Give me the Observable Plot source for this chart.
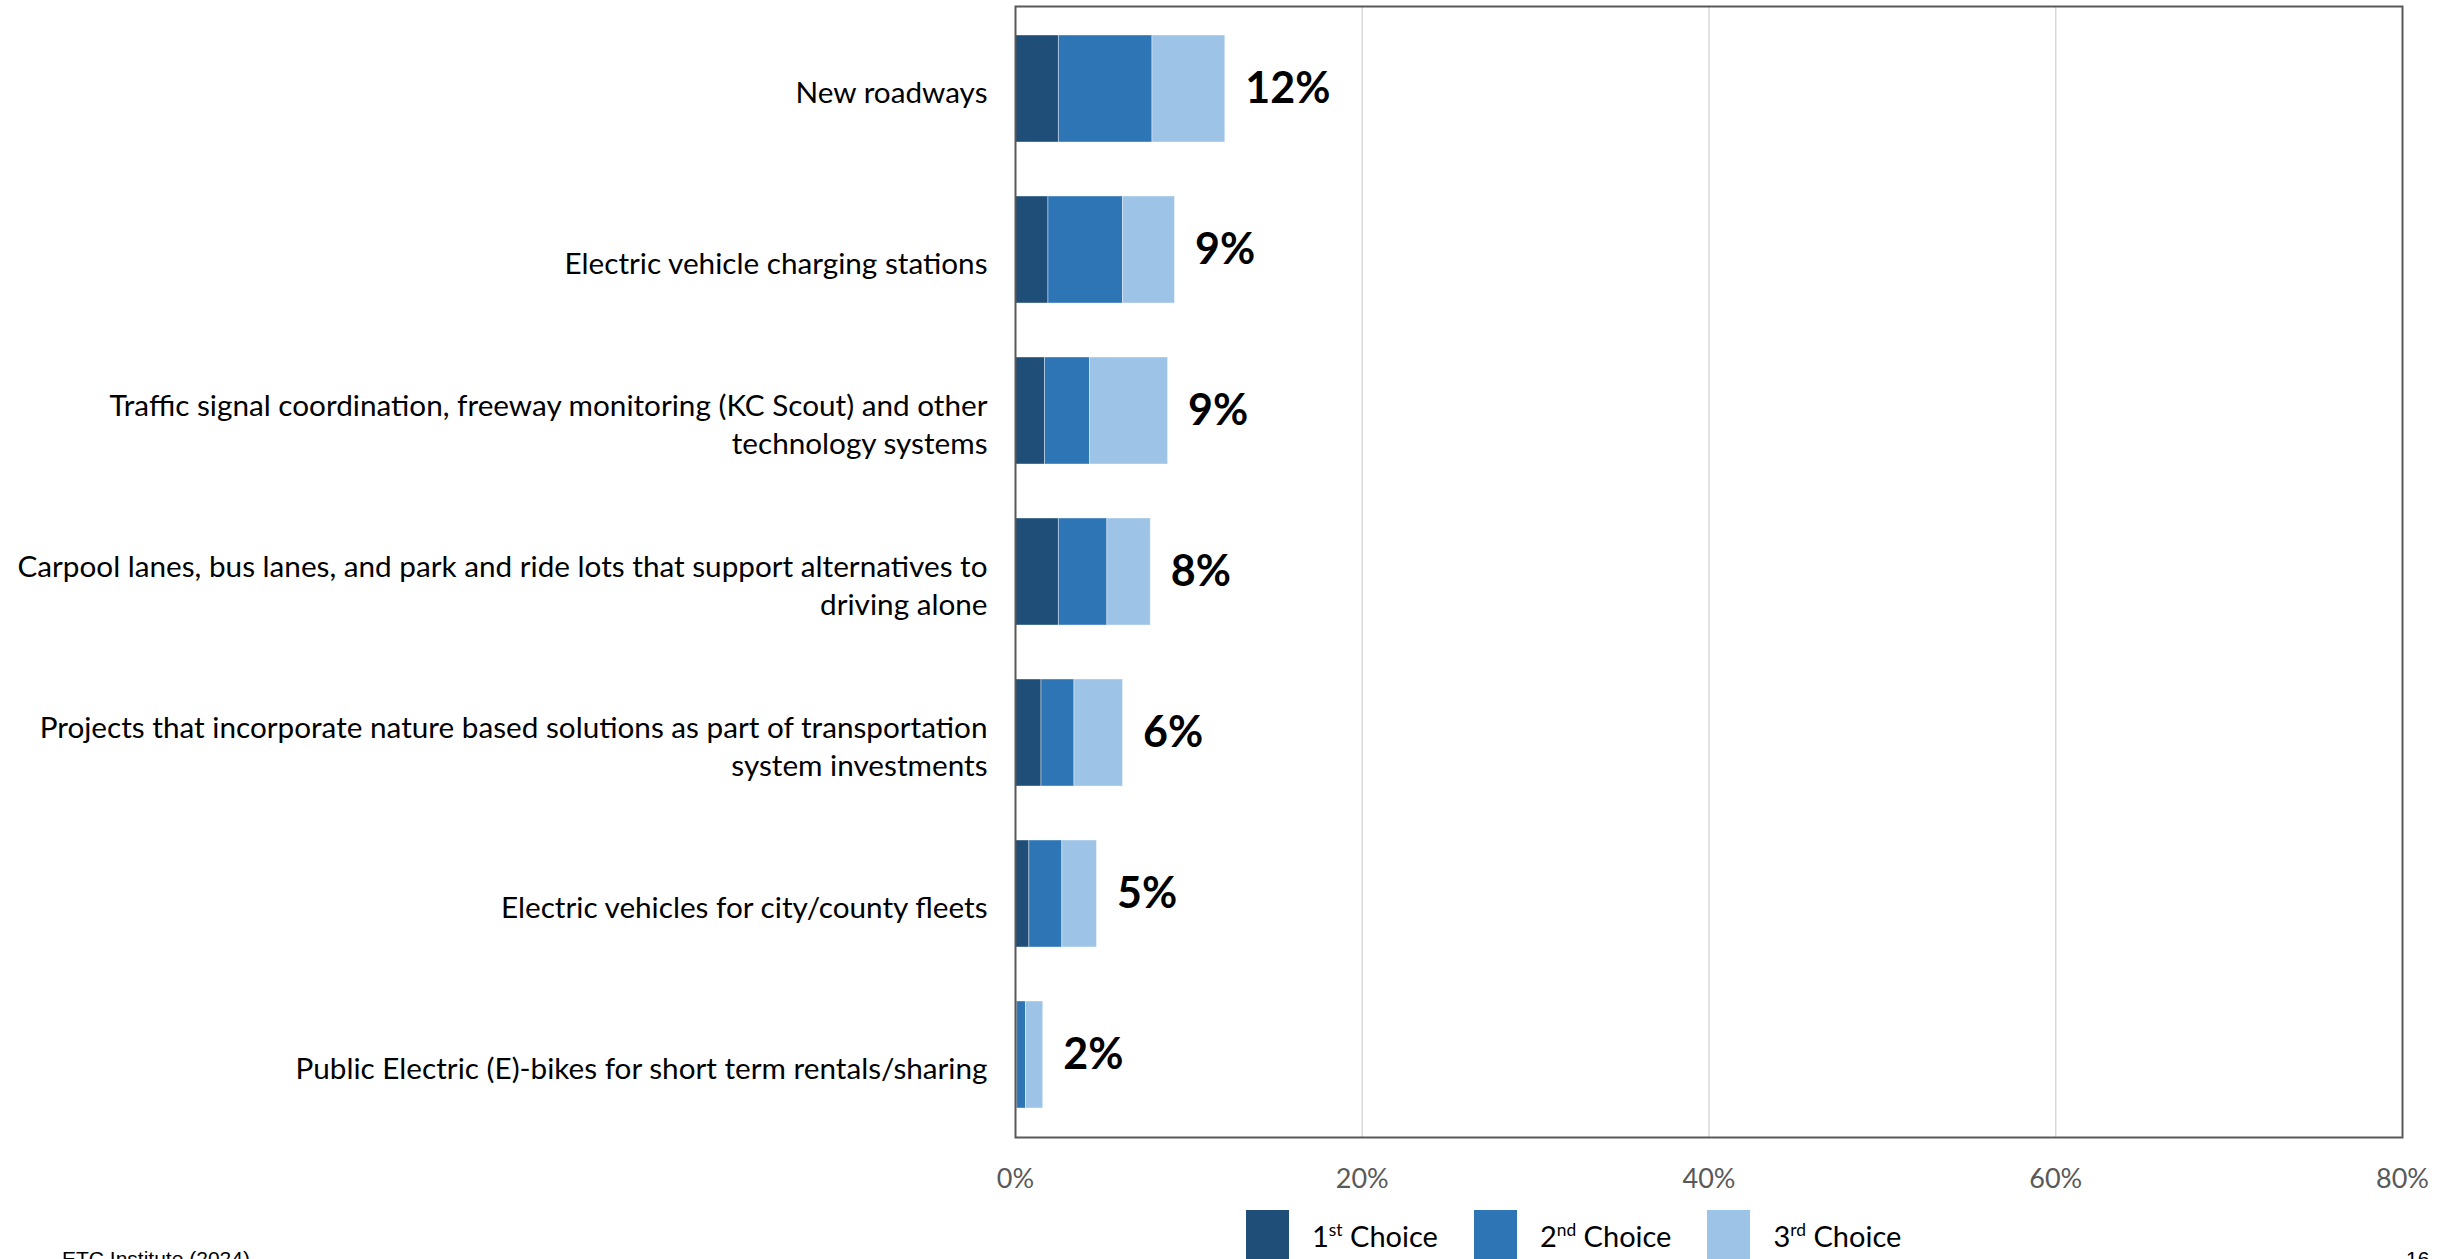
<!DOCTYPE html>
<html>
<head>
<meta charset="utf-8">
<script src="https://cdn.jsdelivr.net/npm/d3@7"></script>
<script src="https://cdn.jsdelivr.net/npm/@observablehq/plot@0.6"></script>
<style>
  html, body { margin: 0; padding: 0; background: #fff; }
  body { width: 2461px; height: 1259px; overflow: hidden; position: relative; font-family: Lato, sans-serif; }
  #chart { position: absolute; left: 0; top: 0; }
  #legend { position: absolute; top: 1210px; left: 1246px; display: flex; align-items: flex-start; }
  .item { display: flex; align-items: flex-start; }
  .sw { width: 43px; height: 60px; }
  .lt { font-size: 29px; line-height: 29px; margin-top: 11px; margin-left: 23px; margin-right: 36px; white-space: nowrap; color: #000; }
  .lt sup { font-size: 0.6em; vertical-align: 0.65em; line-height: 0; }
  .foot { position: absolute; top: 1248px; font-family: "Liberation Sans", Arial, sans-serif; font-size: 21px; line-height: 21px; color: #000; white-space: nowrap; }
</style>
</head>
<body>
<div id="chart"></div>
<div id="legend"></div>
<div class="foot" id="footLeft" style="left:62px"></div>
<div class="foot" id="footRight" style="left:2406px"></div>
<script>
const categories = [
  "New roadways",
  "Electric vehicle charging stations",
  "Traffic signal coordination, freeway monitoring (KC Scout) and other technology systems",
  "Carpool lanes, bus lanes, and park and ride lots that support alternatives to driving alone",
  "Projects that incorporate nature based solutions as part of transportation system investments",
  "Electric vehicles for city/county fleets",
  "Public Electric (E)-bikes for short term rentals/sharing"
];
const tickLabels = [
  "New roadways",
  "Electric vehicle charging stations",
  "Traffic signal coordination, freeway monitoring (KC Scout) and other\ntechnology systems",
  "Carpool lanes, bus lanes, and park and ride lots that support alternatives to\ndriving alone",
  "Projects that incorporate nature based solutions as part of transportation\nsystem investments",
  "Electric vehicles for city/county fleets",
  "Public Electric (E)-bikes for short term rentals/sharing"
];
const choices = ["1st Choice", "2nd Choice", "3rd Choice"];
const choiceNum = ["1", "2", "3"];
const choiceSup = ["st", "nd", "rd"];
const first  = [2.5, 1.9, 1.7, 2.5, 1.5, 0.8, 0.1];
const second = [5.4, 4.3, 2.6, 2.8, 1.9, 1.9, 0.5];
const third  = [4.2, 3.0, 4.5, 2.5, 2.8, 2.0, 1.0];
const totalLabels = [12, 9, 9, 8, 6, 5, 2];
const colors = ["#1f4e79", "#2e75b6", "#9dc3e6"];
const xTicks = [0, 20, 40, 60, 80];
const footerLeft = "ETC Institute (2024)";
const footerRight = "16";

const series = [first, second, third];
const table = [];
categories.forEach((c, i) => {
  choices.forEach((ch, j) => table.push({category: c, choice: ch, value: series[j][i]}));
});
const totalsTable = categories.map((c, i) => ({
  category: c,
  total: first[i] + second[i] + third[i],
  label: totalLabels[i]
}));

const yAxisOpts = {tickSize: 0, tickPadding: 28, fontSize: 29.7, fill: "#000", tickFormat: d => tickLabels[categories.indexOf(d)], lineHeight: 1.26, label: null};

const chart = Plot.plot({
  width: 2461,
  height: 1205,
  marginLeft: 1015,
  marginRight: 59,
  marginTop: 6,
  marginBottom: 68,
  style: {fontFamily: "Lato, sans-serif", background: "#fff", color: "#000"},
  x: {domain: [0, 80], label: null},
  y: {domain: categories, paddingInner: 0.334, paddingOuter: 0.167, label: null},
  color: {domain: choices, range: colors},
  marks: [
    Plot.gridX(xTicks.filter(d => d > 0 && d < 80), {stroke: "#d9d9d9", strokeOpacity: 1, strokeWidth: 1.5}),
    Plot.barX(table, Plot.stackX({x: "value", y: "category", fill: "choice", stroke: "#ffffff", strokeWidth: 0.8, strokeOpacity: 0.5})),
    Plot.text(totalsTable, {x: "total", y: "category", text: d => d.label + "%", dx: 20, textAnchor: "start", fontWeight: 700, fontSize: 43, fill: "#000"}),
    Plot.axisX({ticks: xTicks, tickFormat: d => d + "%", tickSize: 0, tickPadding: 31, fontSize: 27, fill: "#595959", label: null}),
    Plot.axisY({...yAxisOpts, ticks: categories.slice(0, 1), dy: 2}),
    Plot.axisY({...yAxisOpts, ticks: categories.slice(1), dy: 12}),
    Plot.frame({stroke: "#595959", strokeWidth: 2})
  ]
});
document.getElementById("chart").appendChild(chart);

const legend = document.getElementById("legend");
choices.forEach((ch, j) => {
  const item = document.createElement("div");
  item.className = "item";
  const sw = document.createElement("div");
  sw.className = "sw";
  sw.style.background = colors[j];
  const lt = document.createElement("div");
  lt.className = "lt";
  lt.innerHTML = choiceNum[j] + "<sup>" + choiceSup[j] + "</sup> Choice";
  item.appendChild(sw);
  item.appendChild(lt);
  legend.appendChild(item);
});
document.getElementById("footLeft").textContent = footerLeft;
document.getElementById("footRight").textContent = footerRight;
</script>
</body>
</html>
